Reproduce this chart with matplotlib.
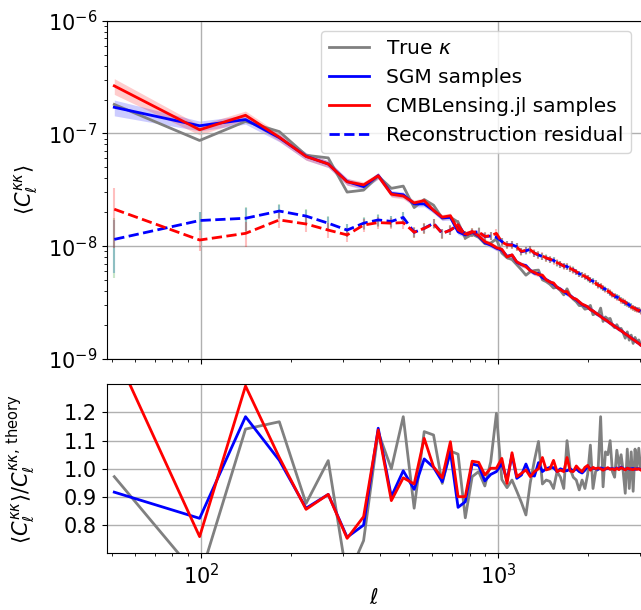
import numpy as np
import matplotlib
matplotlib.use('Agg')
import matplotlib.pyplot as plt

# bin centres: first bin, then uniform Delta ell bins
ell = np.r_[51.0, 98.8 + 42.2 * np.arange(70)]

# theory C_ell^kk at bin centres (units of 1e-9)
theory = np.array([
    186, 142, 112, 89, 73, 59, 49.5, 42.2, 37.0, 32.6,
    28.8, 25.6, 22.9, 20.65, 18.7, 17.0, 15.55, 14.26, 13.13, 12.12,
    11.22, 10.42, 9.70, 9.05, 8.47, 7.93, 7.45, 7.02, 6.62, 6.25,
    5.91, 5.60, 5.32, 5.05, 4.81, 4.58, 4.365, 4.165, 3.98, 3.81,
    3.65, 3.495, 3.35, 3.22, 3.09, 2.973, 2.86, 2.755, 2.655, 2.56,
    2.47, 2.385, 2.30, 2.225, 2.15, 2.08, 2.015, 1.953, 1.89, 1.834,
    1.778, 1.725, 1.675, 1.627, 1.58, 1.536, 1.493, 1.452, 1.413, 1.375,
    1.338]) * 1e-9

# ratios <C>/C_theory
ratio_true = np.array([
    0.972, 0.61, 1.141, 1.167, 0.877, 1.029, 0.61, 0.745, 1.13, 1.0,
    1.185, 0.86, 1.132, 1.12, 0.948, 1.063, 1.052, 0.826, 0.972, 0.99,
    0.939, 1.025, 1.197, 0.962, 0.933, 0.96, 0.92, 0.88, 0.836, 0.95,
    1.03, 1.097, 0.946, 0.96, 0.955, 0.93, 0.99, 0.97, 0.93, 1.10,
    1.0, 0.97, 0.96, 0.925, 0.96, 0.93, 0.98, 1.084, 0.93, 0.99,
    1.0, 1.185, 0.936, 1.06, 1.05, 1.10, 0.99, 0.97, 1.066, 1.01,
    1.05, 0.99, 0.913, 1.07, 0.93, 1.06, 0.92, 1.07, 1.0, 1.073,
    1.0])
ratio_sgm = np.array([
    0.917, 0.824, 1.185, 1.03, 0.86, 0.909, 0.757, 0.80, 1.144, 0.901,
    0.993, 0.927, 1.035, 1.005, 0.954, 1.061, 0.863, 0.883, 1.017, 1.011,
    0.957, 0.98, 0.99, 1.019, 0.96, 1.049, 0.966, 0.978, 1.017, 0.978,
    0.974, 1.022, 0.99, 1.0, 1.005, 1.004, 0.99, 1.0, 0.995, 0.993,
    1.0, 0.992, 1.0, 0.99, 0.985, 0.995, 1.01, 1.0, 1.002, 1.0,
    0.998, 1.003, 1.0, 0.999, 1.002, 1.0, 1.001, 0.998, 1.003, 1.0,
    1.006, 1.0, 0.998, 1.002, 0.999, 1.0, 1.001, 0.998, 1.0, 1.0,
    0.998])
ratio_cmb = np.array([
    1.42, 0.759, 1.294, 1.04, 0.856, 0.909, 0.753, 0.83, 1.138, 0.887,
    0.968, 0.946, 1.108, 1.007, 0.968, 1.096, 0.901, 0.901, 1.027, 1.023,
    0.978, 1.002, 1.002, 1.037, 0.948, 1.057, 0.972, 0.984, 0.996, 0.972,
    0.99, 1.0, 1.04, 0.996, 1.0, 1.03, 0.99, 0.995, 0.99, 1.04,
    0.992, 0.99, 1.01, 0.998, 0.99, 1.005, 1.012, 0.995, 1.005, 1.0,
    1.003, 1.0, 0.995, 1.0, 1.004, 0.998, 1.0, 0.996, 1.002, 0.997,
    1.004, 1.0, 0.996, 1.002, 1.0, 0.998, 0.997, 1.0, 0.998, 1.0,
    0.996])

# relative half-width of the sample bands
band_rel = np.array([
    0.16, 0.10, 0.09, 0.08, 0.075, 0.07, 0.07, 0.065, 0.065, 0.06,
    0.06, 0.06, 0.058, 0.056, 0.055, 0.055, 0.054, 0.053, 0.052, 0.052,
    0.051, 0.05, 0.05, 0.05, 0.05, 0.049, 0.049, 0.048, 0.048, 0.048,
    0.047, 0.047, 0.047, 0.046, 0.046, 0.046, 0.046, 0.045, 0.045, 0.045,
    0.045, 0.045, 0.044, 0.044, 0.044, 0.044, 0.044, 0.043, 0.043, 0.043,
    0.043, 0.043, 0.043, 0.042, 0.042, 0.042, 0.042, 0.042, 0.042, 0.042,
    0.041, 0.041, 0.041, 0.041, 0.041, 0.041, 0.041, 0.04, 0.04, 0.04,
    0.04])

# reconstruction residual power (units of 1e-9)
resid_sgm = np.array([
    11.5, 16.9, 17.7, 20.5, 18.5, 16.0, 13.9, 16.0, 17.1, 16.6,
    18.0, 13.3, 14.4, 16.0, 13.0, 13.9, 15.4, 12.6, 13.2, 13.45,
    12.2, 12.3, 12.0, 11.0, 10.3, 10.3, 9.9, 8.95, 9.1, 9.4,
    8.65, 8.36, 8.1, 7.9, 7.6, 7.5, 7.1, 6.9, 6.7, 6.6,
    6.3, 6.2, 5.9, 5.7, 5.6, 5.4, 5.2, 5.0, 4.9, 4.7,
    4.55, 4.4, 4.25, 4.15, 4.0, 3.85, 3.75, 3.6, 3.55, 3.45,
    3.35, 3.25, 3.15, 3.1, 3.0, 2.95, 2.85, 2.8, 2.75, 2.7,
    2.65]) * 1e-9
resid_cmb = np.array([
    21.3, 11.35, 13.0, 17.1, 15.75, 13.9, 12.6, 15.4, 16.2, 16.0,
    16.2, 13.3, 14.4, 15.8, 13.0, 13.9, 15.5, 12.5, 13.3, 13.4,
    12.2, 12.4, 13.0, 10.9, 10.3, 10.2, 9.8, 9.0, 9.2, 9.3,
    8.7, 8.4, 8.2, 7.85, 7.7, 7.4, 7.15, 6.95, 6.65, 6.6,
    6.35, 6.15, 5.95, 5.7, 5.55, 5.4, 5.25, 5.0, 4.85, 4.7,
    4.5, 4.45, 4.25, 4.1, 4.0, 3.9, 3.7, 3.65, 3.5, 3.45,
    3.3, 3.25, 3.2, 3.05, 3.0, 2.9, 2.85, 2.8, 2.72, 2.7,
    2.62]) * 1e-9
# relative error bars on the residual
resid_rel = np.array([
    0.55, 0.2, 0.25, 0.15, 0.15, 0.15, 0.14, 0.13, 0.13, 0.12,
    0.12, 0.11, 0.11, 0.1, 0.1, 0.1, 0.1, 0.09, 0.09, 0.09,
    0.09, 0.085, 0.085, 0.085, 0.08, 0.08, 0.08, 0.08, 0.08, 0.075,
    0.075, 0.075, 0.075, 0.075, 0.07, 0.07, 0.07, 0.07, 0.07, 0.07,
    0.07, 0.07, 0.065, 0.065, 0.065, 0.065, 0.065, 0.065, 0.065, 0.065,
    0.065, 0.065, 0.06, 0.06, 0.06, 0.06, 0.06, 0.06, 0.06, 0.06,
    0.06, 0.06, 0.06, 0.06, 0.06, 0.06, 0.06, 0.06, 0.06, 0.06,
    0.06])

plt.rcParams['font.size'] = 15

fig = plt.figure(figsize=(6.41, 6.10), dpi=100)
ax1 = fig.add_axes([0.1665, 0.4115, 0.8335, 0.5546])
ax2 = fig.add_axes([0.1665, 0.0930, 0.8335, 0.2770], sharex=ax1)

c_true = theory * ratio_true
c_sgm = theory * ratio_sgm
c_cmb = theory * ratio_cmb

ax1.fill_between(ell, c_sgm * (1 - band_rel), c_sgm * (1 + band_rel),
                 color='blue', alpha=0.2, lw=0)
ax1.fill_between(ell, c_cmb * (1 - band_rel), c_cmb * (1 + band_rel),
                 color='red', alpha=0.2, lw=0)

ax1.errorbar(ell, resid_sgm, yerr=resid_sgm * resid_rel, fmt='none',
             ecolor='tab:green', alpha=0.25, lw=1.5)
ax1.errorbar(ell, resid_sgm, yerr=resid_sgm * resid_rel * 0.9, fmt='none',
             ecolor='tab:blue', alpha=0.35, lw=1.5)
ax1.errorbar(ell, resid_cmb, yerr=resid_cmb * resid_rel, fmt='none',
             ecolor='red', alpha=0.25, lw=1.5)

ax1.plot(ell, c_true, color='gray', lw=2, label=r'True $\kappa$')
ax1.plot(ell, c_sgm, color='blue', lw=2, label='SGM samples')
ax1.plot(ell, c_cmb, color='red', lw=2, label='CMBLensing.jl samples')
ax1.plot(ell, resid_sgm, color='blue', lw=2, ls='--',
         label='Reconstruction residual')
ax1.plot(ell, resid_cmb, color='red', lw=2, ls='--')

ax1.set_xscale('log')
ax1.set_yscale('log')
ax1.set_xlim(48.1, 3020)
ax1.set_ylim(1e-9, 1e-6)
ax1.grid(True, which='major', color='#b0b0b0', lw=1)
ax1.tick_params(labelbottom=False)
ax1.set_ylabel(r'$\langle C_\ell^{\kappa\kappa}\rangle$')
ax1.yaxis.set_label_coords(-0.125, 0.5)
ax1.legend(loc='upper right', fontsize=14.5)
ax1.spines['right'].set_visible(False)

ax2.plot(ell, ratio_true, color='gray', lw=2)
ax2.plot(ell, ratio_sgm, color='blue', lw=2)
ax2.plot(ell, ratio_cmb, color='red', lw=2)
ax2.set_ylim(0.7, 1.3)
ax2.set_yticks([0.8, 0.9, 1.0, 1.1, 1.2])
ax2.grid(True, which='major', color='#b0b0b0', lw=1)
ax2.set_xlabel(r'$\ell$', labelpad=0)
ax2.set_ylabel(r'$\langle C_\ell^{\kappa\kappa}\rangle / C_\ell^{\kappa\kappa,\,\mathrm{theory}}$')
ax2.yaxis.set_label_coords(-0.128, 0.5)
ax2.spines['right'].set_visible(False)

fig.savefig('out.png', dpi=100)
